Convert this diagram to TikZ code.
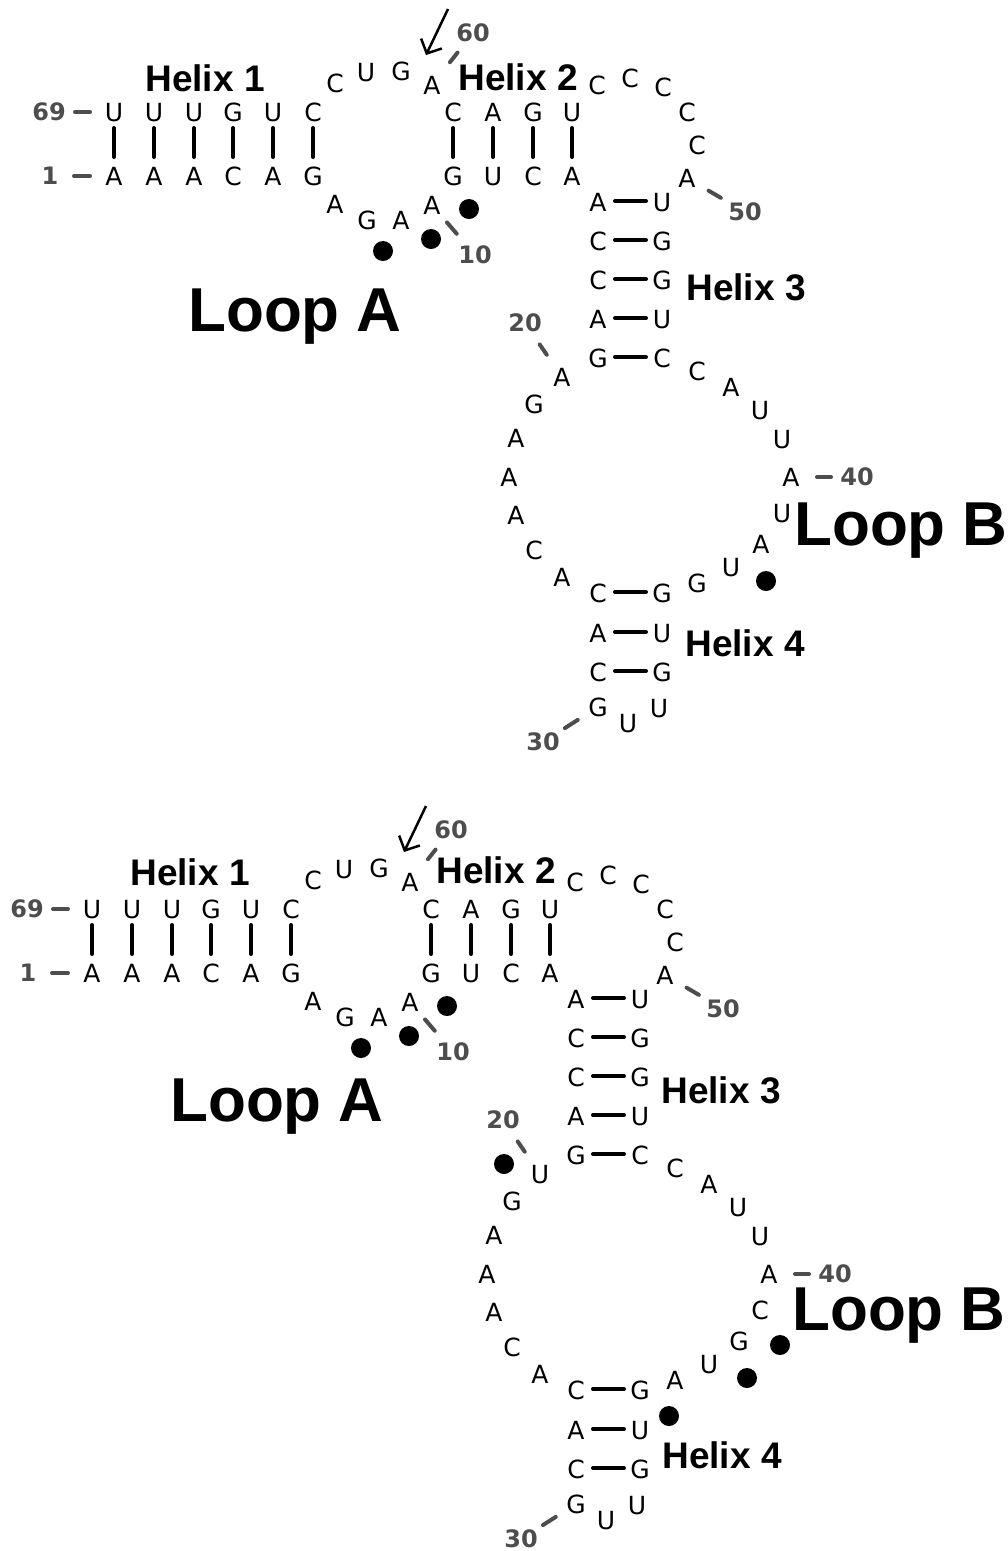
\documentclass[tikz,border=0pt]{standalone}
\usepackage{fontspec}
\setmainfont{DejaVu Sans}
\newfontfamily\labelfont{Liberation Sans}
\usetikzlibrary{arrows.meta,calc}
\definecolor{numgray}{RGB}{77,77,77}
\tikzset{
  nt/.style={font=\fontsize{25pt}{25pt}\selectfont, inner sep=0pt, text height=18.2pt, text depth=0pt},
  numlab/.style={font=\fontsize{24pt}{24pt}\selectfont\bfseries, text=numgray, inner sep=0pt, text height=17.5pt, text depth=0pt},
  helixlab/.style={font=\labelfont\fontsize{37pt}{37pt}\selectfont\bfseries, inner sep=0pt, text height=26.5pt, text depth=0pt},
  looplab/.style={font=\labelfont\fontsize{62pt}{62pt}\selectfont\bfseries, inner sep=0pt, text height=44.4pt, text depth=0pt},
  dotnode/.style={circle, fill=black, inner sep=0pt, minimum size=20pt},
  pairbar/.style={line width=4pt, line cap=round},
  tickline/.style={draw=numgray, line width=4pt, line cap=round},
  cutarrow/.style={line width=2.5pt, -{Straight Barb[length=11pt,width=23pt]}}
}
% #1 prefix, #2 nt20, #3-#6 nt36-39
\newcommand\drawrna[6]{%
  \foreach \n/\x/\y/\l in {1/114/176/A, 2/154/176/A, 3/194/176/A, 4/233/176/C, 5/273/176/A, 6/313/176/G,
    7/335/204/A, 8/367/220/G, 9/401/220/A, 10/432/205/A,
    11/453/176/G, 12/493/176/U, 13/533/176/C, 14/572/176/A,
    15/598/202/A, 16/598/241/C, 17/598/280/C, 18/598/319/A, 19/598/358/G,
    20/562/377/#2, 21/534/404/G, 22/516/438/A, 23/509/477/A, 24/516/515/A, 25/534/550/C, 26/562/577/A,
    27/598/593/C, 28/598/633/A, 29/598/672/C, 30/598/707/G, 31/628/723/U, 32/659/708/U,
    33/662/672/G, 34/662/633/U, 35/662/593/G,
    36/697/583/#3, 37/731/567/#4, 38/761/544/#5, 39/782/513/#6, 40/791/477/A,
    41/782/439/U, 42/760/410/U, 43/731/387/A, 44/697/371/C,
    45/662/358/C, 46/662/319/U, 47/662/280/G, 48/662/241/G, 49/662/202/U,
    50/687/178/A, 51/697/145/C, 52/687/112/C, 53/663/87/C, 54/630/78/C, 55/597/85/C,
    56/572/112/U, 57/533/112/G, 58/493/112/A, 59/453/112/C,
    60/432/85/A, 61/401/71/G, 62/366/72/U, 63/335/83/C,
    64/313/112/C, 65/273/112/U, 66/233/112/G, 67/194/112/U, 68/154/112/U, 69/114/112/U}
    {\node[nt] (#1\n) at (\x,\y) {\l};}
  \foreach \a/\b in {69/1, 68/2, 67/3, 66/4, 65/5, 64/6, 59/11, 58/12, 57/13, 56/14}
    {\draw[pairbar, shorten <=16pt, shorten >=19pt] (#1\a.center) -- (#1\b.center);}
  \foreach \a/\b in {15/49, 16/48, 17/47, 18/46, 19/45, 27/35, 28/34, 29/33}
    {\draw[pairbar, shorten <=17pt, shorten >=16pt] ([yshift=1pt]#1\a.center) -- ([yshift=1pt]#1\b.center);}
  \foreach \n/\x/\y/\sa/\sb in {1/50/176/24pt/24pt, 69/49/112/24pt/26pt, 10/475/255/23pt/28pt,
    20/525/323/27pt/26pt, 30/543/742/24pt/26pt, 40/857/477/26pt/26pt, 50/745/212/25pt/28pt, 60/473/33/29pt/25pt}
    {\node[numlab] (#1num\n) at (\x,\y) {\n};
     \draw[tickline, shorten <=\sa, shorten >=\sb] (#1\n.center) -- (#1num\n.center);}
  \coordinate (#1arrS) at (448,9);
  \coordinate (#1arrE) at (426,55);
  \draw[cutarrow] (#1arrS) -- (#1arrE);
  \node[dotnode] (#1dA) at (383,251) {};
  \node[dotnode] (#1dB) at (431,239) {};
  \node[dotnode] (#1dC) at (469,209) {};
}
\begin{document}
\begin{tikzpicture}[x=1pt,y=-1pt]
\useasboundingbox (0,0) rectangle (1008,1551);
% ---- top structure ----
\begin{scope}
  \drawrna{t}{A}{G}{U}{A}{U}
  \node[dotnode] (tdD) at (766,581) {};
\end{scope}
\node[helixlab] (th1) at (205,78) {Helix 1};
\node[helixlab] (th2) at (518,77) {Helix 2};
\node[helixlab] (th3) at (746,287) {Helix 3};
\node[helixlab] (th4) at (745,643) {Helix 4};
\node[looplab] (tlA) at (295,309) {Loop A};
\node[looplab] (tlB) at (901,523) {Loop B};
% ---- bottom structure ----
\begin{scope}[shift={(-22,797)}]
  \drawrna{b}{U}{A}{U}{G}{C}
  \node[dotnode] (bdD) at (769,581) {};
  \node[dotnode] (bdE) at (526,367) {};
  \node[dotnode] (bdF) at (802,548) {};
  \node[dotnode] (bdG) at (691,619) {};
\end{scope}
\node[helixlab] (bh1) at (190,872) {Helix 1};
\node[helixlab] (bh2) at (496,870) {Helix 2};
\node[helixlab] (bh3) at (721,1090) {Helix 3};
\node[helixlab] (bh4) at (722,1455) {Helix 4};
\node[looplab] (blA) at (277,1099) {Loop A};
\node[looplab] (blB) at (899,1308) {Loop B};
\end{tikzpicture}
\end{document}
